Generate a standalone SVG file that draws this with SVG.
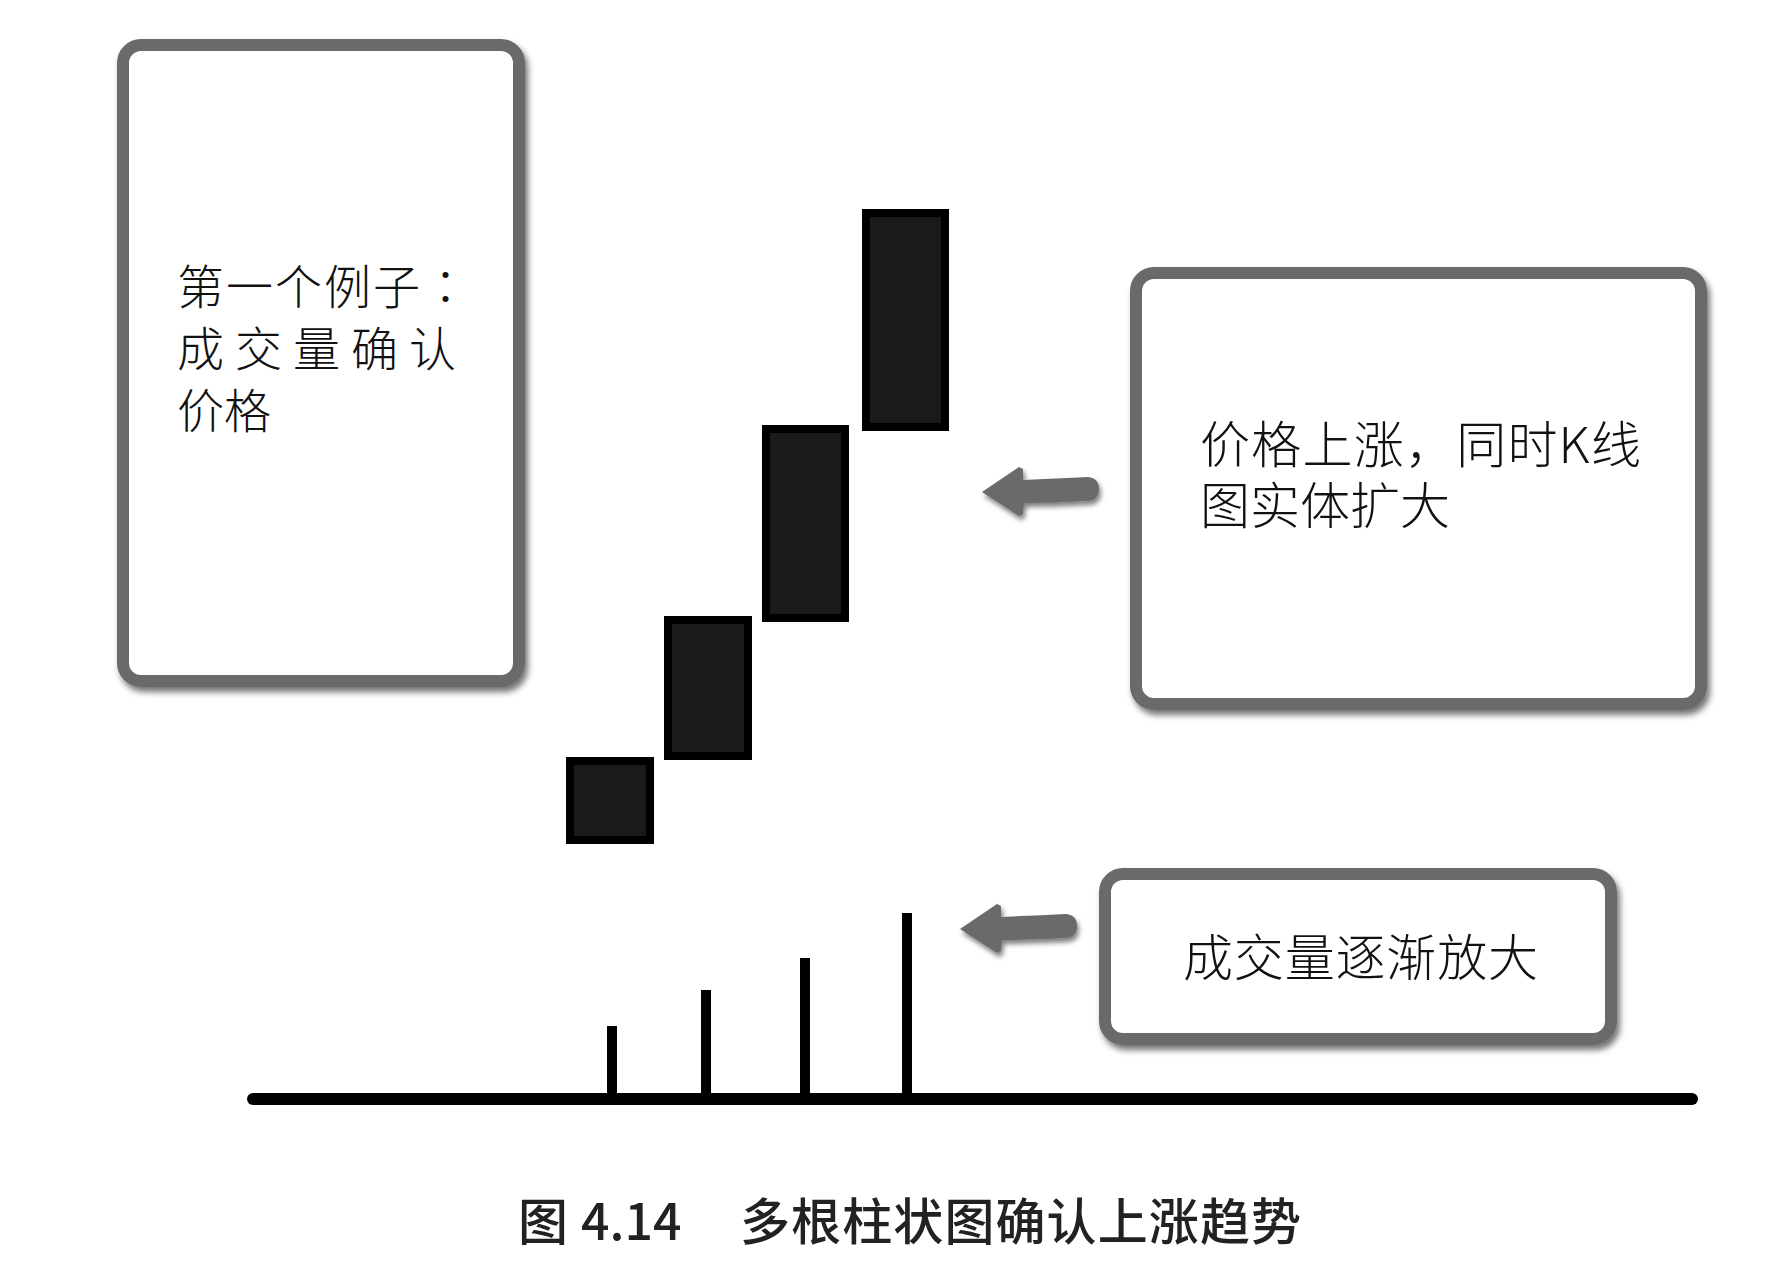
<svg xmlns="http://www.w3.org/2000/svg" width="1767" height="1272" viewBox="0 0 1767 1272">
<style>
.box{fill:#ffffff;stroke:#6a6a6a;stroke-width:12}
.lbl{font-family:"Noto Sans CJK SC","Noto Sans CJK JP",sans-serif;fill:#111;font-weight:300}
.candle{fill:#1a1a1a;stroke:#000;stroke-width:8}
.bar{stroke:#000;stroke-width:10}
.arrow{fill:#6a6a6a}
.cap{font-family:"Noto Sans CJK SC",sans-serif;font-size:50px;fill:#222;font-weight:500}
</style>
<defs>
<filter id="sh" x="-10%" y="-10%" width="130%" height="130%">
<feDropShadow dx="3" dy="5" stdDeviation="3" flood-color="#000" flood-opacity="0.55"/>
</filter>
<filter id="sha" x="-20%" y="-30%" width="150%" height="170%">
<feDropShadow dx="2" dy="4" stdDeviation="2.5" flood-color="#000" flood-opacity="0.5"/>
</filter>
<path id="arr" d="M982 492 L1019 467 L1023 469 L1023 480 C1045 479 1068 478 1088 477 Q1099 478 1099 489 Q1099 500 1088 501 C1068 502 1045 503 1024 503 L1023 514 L1019 516 Z"/>
</defs>
<rect width="1767" height="1272" fill="#ffffff"/>

<g id="box-left">
<rect class="box" x="123" y="45" width="396" height="636" rx="18" filter="url(#sh)"/>
<text class="lbl" x="177" y="304" font-size="47" letter-spacing="2">第一个例子<tspan font-family="Noto Sans CJK JP, sans-serif">：</tspan></text>
<text class="lbl" x="177" y="366" font-size="47" textLength="279" lengthAdjust="spacing">成 交 量 确 认</text>
<text class="lbl" x="177" y="428" font-size="47">价格</text>
</g>

<g id="box-right">
<rect class="box" x="1136" y="273" width="565" height="431" rx="18" filter="url(#sh)"/>
<text class="lbl" x="1200" y="463" font-size="50" textLength="441" lengthAdjust="spacing">价格上涨，同时K线</text>
<text class="lbl" x="1200" y="524" font-size="50">图实体扩大</text>
</g>

<g id="box-volume">
<rect class="box" x="1105" y="874" width="506" height="165" rx="18" filter="url(#sh)"/>
<text class="lbl" x="1183" y="976" font-size="50" textLength="355" lengthAdjust="spacing">成交量逐渐放大</text>
</g>

<g id="candles">
<rect class="candle" x="570" y="761" width="80" height="79"/>
<rect class="candle" x="668" y="620" width="80" height="136"/>
<rect class="candle" x="766" y="429" width="79" height="189"/>
<rect class="candle" x="866" y="213" width="79" height="214"/>
</g>

<g id="volume">
<line class="bar" x1="612" y1="1026" x2="612" y2="1099"/>
<line class="bar" x1="706" y1="990" x2="706" y2="1099"/>
<line class="bar" x1="805" y1="958" x2="805" y2="1099"/>
<line class="bar" x1="907" y1="913" x2="907" y2="1099"/>
<line x1="253" y1="1099" x2="1692" y2="1099" stroke="#000" stroke-width="12" stroke-linecap="round"/>
</g>

<g id="connectors">
<use href="#arr" class="arrow" filter="url(#sha)"/>
<use href="#arr" class="arrow" filter="url(#sha)" transform="translate(-22 437)"/>
</g>

<g id="caption">
<text class="cap" y="1240"><tspan x="518">图</tspan><tspan x="581">4.14</tspan><tspan x="740" textLength="561" lengthAdjust="spacing">多根柱状图确认上涨趋势</tspan></text>
</g>
</svg>
